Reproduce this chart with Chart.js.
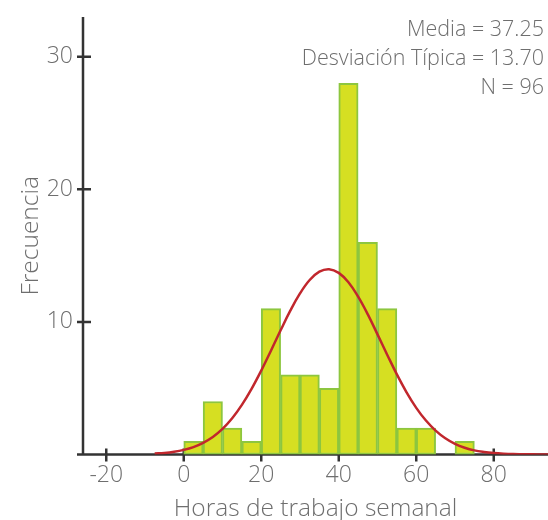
<!DOCTYPE html>
<html>
<head>
<meta charset="utf-8">
<script src="https://cdn.jsdelivr.net/npm/chart.js@4"></script>
<style>
html,body{margin:0;padding:0;background:#fff;}
#wrap{width:548px;height:520px;position:relative;}
</style>
</head>
<body>
<div id="wrap"><canvas id="c" width="548" height="520"></canvas></div>
<script>
// Histogram bins (lower edge, width 5) and counts
const binStarts = [0, 5, 10, 15, 20, 25, 30, 35, 40, 45, 50, 55, 60, 65, 70];
const binCounts = [1, 4, 2, 1, 11, 6, 6, 5, 28, 16, 11, 2, 2, 0, 1];
// Fitted normal curve
const curveX = [-7.5, -5, -2.5, 0, 2.5, 5, 7.5, 10, 12.5, 15, 17.5, 20, 22.5, 25, 27.5, 30, 32.5, 35, 37.5, 40, 42.5, 45, 47.5, 50, 52.5, 55, 57.5, 60, 62.5, 65, 67.5, 70, 72.5, 75, 77.5, 80, 82.5, 85, 87.5, 90, 92.5, 95];
const curveY = [0.07, 0.12, 0.21, 0.35, 0.56, 0.88, 1.32, 1.93, 2.73, 3.74, 4.95, 6.33, 7.83, 9.37, 10.85, 12.15, 13.16, 13.79, 13.98, 13.70, 12.99, 11.91, 10.57, 9.06, 7.53, 6.04, 4.69, 3.52, 2.56, 1.80, 1.22, 0.80, 0.51, 0.31, 0.19, 0.11, 0.06, 0.03, 0.02, 0.01, 0, 0];
const xTicks = [-20, 0, 20, 40, 60, 80];
const yTicks = [10, 20, 30];
const statsLines = ['Media = 37.25', 'Desviación Típica = 13.70', 'N = 96'];
const xTitle = 'Horas de trabajo semanal';
const yTitle = 'Frecuencia';
const binWidth = 5;

const FONT = '"Segoe UI", "Open Sans", "Noto Sans", sans-serif';
const TEXT = '#6e6e6e';
const AXIS = '#333333';

const barData = binStarts.map((s, i) => ({x: s + binWidth / 2, y: binCounts[i]}));
const lineData = curveX.map((x, i) => ({x: x, y: curveY[i]}));

const customPlugin = {
  id: 'custom',
  beforeDatasetsDraw(chart) {
    const ctx = chart.ctx, xs = chart.scales.x, ys = chart.scales.y;
    const ca = chart.chartArea;
    ctx.save();
    ctx.strokeStyle = AXIS;
    ctx.lineWidth = 2.5;
    ctx.beginPath();
    ctx.moveTo(ca.left, ca.top);
    ctx.lineTo(ca.left, ca.bottom + 1);
    ctx.moveTo(ca.left - 6, ca.bottom);
    ctx.lineTo(chart.width, ca.bottom);
    for (const t of yTicks) {
      const y = ys.getPixelForValue(t);
      ctx.moveTo(ca.left - 6, y);
      ctx.lineTo(ca.left + 8, y);
    }
    for (const t of xTicks) {
      const x = xs.getPixelForValue(t);
      ctx.moveTo(x, ca.bottom - 6);
      ctx.lineTo(x, ca.bottom + 7);
    }
    ctx.stroke();
    ctx.restore();
  },
  afterDraw(chart) {
    const ctx = chart.ctx, ca = chart.chartArea;
    ctx.save();
    ctx.fillStyle = TEXT;
    ctx.font = '300 21.5px ' + FONT;
    ctx.textAlign = 'right';
    ctx.textBaseline = 'alphabetic';
    statsLines.forEach((s, i) => ctx.fillText(s, 544, 36 + i * 29));
    ctx.font = '300 24.5px ' + FONT;
    ctx.textAlign = 'center';
    ctx.fillText(xTitle, (ca.left + chart.width) / 2, 516);
    ctx.translate(38, (ca.top + ca.bottom) / 2);
    ctx.rotate(-Math.PI / 2);
    ctx.fillText(yTitle, 0, 0);
    ctx.restore();
  }
};

new Chart(document.getElementById('c'), {
  type: 'bar',
  data: {
    datasets: [
      {
        type: 'line',
        data: lineData,
        borderColor: '#c1272d',
        borderWidth: 2.5,
        pointRadius: 0,
        tension: 0.4,
        fill: false,
        order: 0
      },
      {
        type: 'bar',
        data: barData,
        backgroundColor: '#d6df22',
        borderColor: '#8dc63f',
        borderWidth: 2,
        borderSkipped: false,
        barPercentage: 1,
        categoryPercentage: 1,
        order: 1
      }
    ]
  },
  options: {
    responsive: false,
    animation: false,
    devicePixelRatio: 1,
    layout: {padding: {top: 17, right: 0, left: 0, bottom: 0}},
    plugins: {legend: {display: false}, tooltip: {enabled: false}},
    scales: {
      x: {
        type: 'linear',
        min: -26,
        max: 94,
        offset: false,
        grid: {display: false, offset: false, drawTicks: false},
        border: {display: false},
        afterBuildTicks(scale) { scale.ticks = xTicks.map(v => ({value: v})); },
        afterFit(scale) { scale.height = 65.5; scale.paddingLeft = 0; scale.paddingRight = 0; },
        ticks: {
          color: TEXT,
          padding: 7,
          maxRotation: 0,
          autoSkip: false,
          font: {family: FONT, size: 23, weight: '300'}
        }
      },
      y: {
        type: 'linear',
        min: 0,
        max: 33,
        grid: {display: false, drawTicks: false},
        border: {display: false},
        afterBuildTicks(scale) { scale.ticks = yTicks.map(v => ({value: v})); },
        afterFit(scale) { scale.width = 83; scale.paddingTop = 0; scale.paddingBottom = 0; },
        ticks: {
          color: TEXT,
          padding: 10,
          font: {family: FONT, size: 23, weight: '300'}
        }
      }
    }
  },
  plugins: [customPlugin]
});
</script>
</body>
</html>
